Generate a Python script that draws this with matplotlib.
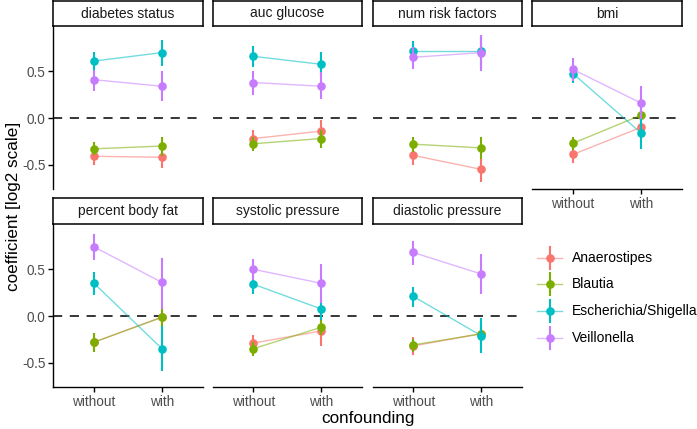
import matplotlib
matplotlib.use("Agg")
import matplotlib.pyplot as plt

plt.rcParams['font.family'] = ['Liberation Sans', 'DejaVu Sans']

confounders = ["diabetes status", "auc glucose", "num risk factors", "bmi",
               "percent body fat", "systolic pressure", "diastolic pressure"]
levels = ["without", "with"]
genera = ["Anaerostipes", "Blautia", "Escherichia/Shigella", "Veillonella"]
colors = ["#F8766D", "#7CAE00", "#00BFC4", "#C77CFF"]

# (without, with) per confounder
ana_est = [(-0.41, -0.42), (-0.22, -0.14), (-0.40, -0.55), (-0.39, -0.10), (-0.28, -0.01), (-0.29, -0.16), (-0.32, -0.19)]
ana_lo = [(-0.50, -0.54), (-0.31, -0.25), (-0.50, -0.69), (-0.48, -0.19), (-0.38, -0.11), (-0.39, -0.32), (-0.42, -0.275)]
ana_hi = [(-0.33, -0.33), (-0.13, -0.025), (-0.31, -0.44), (-0.31, -0.03), (-0.18, 0.10), (-0.20, -0.025), (-0.23, -0.10)]

bla_est = [(-0.33, -0.30), (-0.275, -0.22), (-0.28, -0.32), (-0.27, 0.03), (-0.28, -0.015), (-0.35, -0.12), (-0.31, -0.19)]
bla_lo = [(-0.40, -0.41), (-0.35, -0.32), (-0.36, -0.44), (-0.34, -0.04), (-0.38, -0.13), (-0.425, -0.20), (-0.38, -0.29)]
bla_hi = [(-0.26, -0.20), (-0.20, -0.13), (-0.20, -0.20), (-0.20, 0.10), (-0.18, 0.11), (-0.275, -0.035), (-0.25, -0.10)]

esc_est = [(0.61, 0.70), (0.66, 0.575), (0.72, 0.72), (0.475, -0.16), (0.35, -0.35), (0.34, 0.075), (0.21, -0.21)]
esc_lo = [(0.51, 0.56), (0.55, 0.44), (0.62, 0.56), (0.37, -0.33), (0.225, -0.59), (0.24, -0.04), (0.10, -0.40)]
esc_hi = [(0.71, 0.84), (0.77, 0.71), (0.825, 0.885), (0.56, -0.01), (0.475, -0.11), (0.44, 0.17), (0.31, -0.02)]

vei_est = [(0.41, 0.34), (0.38, 0.34), (0.65, 0.70), (0.52, 0.16), (0.74, 0.36), (0.50, 0.35), (0.68, 0.45)]
vei_lo = [(0.29, 0.18), (0.25, 0.20), (0.53, 0.50), (0.40, -0.01), (0.60, 0.08), (0.39, 0.14), (0.55, 0.24)]
vei_hi = [(0.51, 0.50), (0.50, 0.49), (0.76, 0.885), (0.64, 0.34), (0.88, 0.62), (0.61, 0.56), (0.80, 0.66)]

yticks = [-0.5, 0.0, 0.5]
ytick_labels = ["-0.5", "0.0", "0.5"]

series = [(ana_est, ana_lo, ana_hi), (bla_est, bla_lo, bla_hi),
          (esc_est, esc_lo, esc_hi), (vei_est, vei_lo, vei_hi)]

W, H = 697, 429
fig = plt.figure(figsize=(W / 100, H / 100), dpi=100)

col_left = [53.3, 212.7, 372.5, 532.3]
pw = 149.4
rows = [(26, 189, 1, 26), (224, 387, 198.5, 224)]  # panel top, bottom, strip top, strip bottom
tick_color = "#4D4D4D"
xs = [1, 2]
MS = 6.2
ELW = 1.5

for i, conf in enumerate(confounders):
    r, c = divmod(i, 4)
    ptop, pbot, stop, sbot = rows[r]
    ax = fig.add_axes([col_left[c] / W, 1 - pbot / H, pw / W, (pbot - ptop) / H])
    ax.set_xlim(0.4, 2.6)
    ax.set_ylim(-0.76, 0.985)
    for s in ["top", "right"]:
        ax.spines[s].set_visible(False)
    ax.axhline(0, color="black", lw=1.1, ls=(0, (6.0, 5.0)), zorder=1)
    for (est, lo, hi), col in zip(series, colors):
        ax.plot(xs, est[i], color=col, lw=1.0, alpha=0.55, zorder=2)
    for (est, lo, hi), col in zip(series, colors):
        ax.vlines(xs, lo[i], hi[i], color=col, lw=ELW, zorder=3)
        ax.plot(xs, est[i], ls="none", marker="o", ms=MS, color=col,
                markeredgewidth=0, zorder=3)
    show_x = (r == 1) or (c == 3)
    show_y = (c == 0)
    ax.spines["left"].set_visible(show_y)
    ax.spines["bottom"].set_visible(show_x)
    for s in ["left", "bottom"]:
        ax.spines[s].set_linewidth(1.0)
    ax.set_xticks(xs)
    ax.set_yticks(yticks)
    if show_x:
        ax.set_xticklabels(levels, fontsize=9.8, color=tick_color)
        ax.tick_params(axis="x", length=3.5, width=1.0, pad=2)
    else:
        ax.tick_params(axis="x", length=0, labelbottom=False)
    if show_y:
        ax.set_yticklabels(ytick_labels, fontsize=9.8, color=tick_color)
        ax.tick_params(axis="y", length=3.5, width=1.0, pad=2)
    else:
        ax.tick_params(axis="y", length=0, labelleft=False)
    ax.patch.set_alpha(0)

    sax = fig.add_axes([col_left[c] / W, 1 - sbot / H, pw / W, (sbot - stop) / H])
    sax.set_xticks([])
    sax.set_yticks([])
    for s in sax.spines.values():
        s.set_linewidth(1.1)
        s.set_color("black")
    sax.text(0.5, 0.5, conf, ha="center", va="center", fontsize=10, color="#1A1A1A",
             transform=sax.transAxes)

fig.text(367.5 / W, 1 - 418 / H, "confounding", ha="center", va="center", fontsize=12.3)
fig.text(14 / W, 1 - 206 / H, "coefficient [log2 scale]", ha="center", va="center",
         rotation=90, fontsize=12.3)

# legend
lax = fig.add_axes([0, 0, 1, 1])
lax.set_xlim(0, W)
lax.set_ylim(H, 0)
lax.axis("off")
leg_y = [257.7, 284.3, 311.0, 337.7]
for g, col, y in zip(genera, colors, leg_y):
    lax.plot([537, 562], [y, y], color=col, lw=1.0, alpha=0.55)
    lax.plot([550, 550], [y - 11, y + 11], color=col, lw=ELW)
    lax.plot([550], [y], marker="o", ms=MS, color=col, markeredgewidth=0)
    lax.text(571.7, y, g, ha="left", va="center", fontsize=10)

fig.savefig("out.png", dpi=100)
